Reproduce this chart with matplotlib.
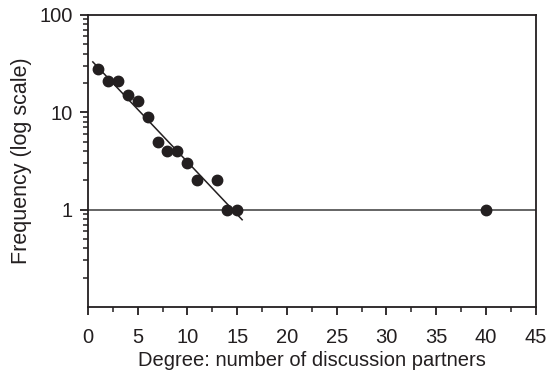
import numpy as np
import matplotlib
matplotlib.use("Agg")
import matplotlib.pyplot as plt
from matplotlib.ticker import FixedLocator, MultipleLocator, NullFormatter

degree = [1, 2, 3, 4, 5, 6, 7, 8, 9, 10, 11, 13, 14, 15, 40]
frequency = [28, 21, 21, 15, 13, 9, 5, 4, 4, 3, 2, 2, 1, 1, 1]
xticks = [0, 5, 10, 15, 20, 25, 30, 35, 40, 45]
yticks = [1, 10, 100]
ytick_labels = ["1", "10", "100"]

plt.rcParams['font.family'] = ['Liberation Sans', 'DejaVu Sans']
ink = '#231f20'

fig = plt.figure(figsize=(5.49, 3.72), dpi=100)
ax = fig.add_axes([0.160, 0.175, 0.816, 0.785])

ax.set_yscale('log')
ax.set_xlim(0, 45)
ax.set_ylim(0.1, 100)

# fit line on the degree <= 15 points
fx = np.array([d for d in degree if d <= 15], dtype=float)
fy = np.array([f for d, f in zip(degree, frequency) if d <= 15], dtype=float)
b, a = np.polyfit(fx, np.log10(fy), 1)
lx = np.array([0.5, 15.5])
ax.plot(lx, 10 ** (a + b * lx), color=ink, lw=1.1, zorder=2)

ax.axhline(1, color='#3a3a3a', lw=1.1, zorder=1)
ax.plot(degree, frequency, 'o', color=ink, markersize=7.5, zorder=3)

ax.xaxis.set_major_locator(FixedLocator(xticks))
ax.xaxis.set_minor_locator(MultipleLocator(2.5))
ax.yaxis.set_major_locator(FixedLocator(yticks))
ax.set_yticklabels(ytick_labels)
minors = [m * 10.0 ** e for e in (-1, 0, 1) for m in range(2, 10)]
ax.yaxis.set_minor_locator(FixedLocator(minors))
ax.yaxis.set_minor_formatter(NullFormatter())

fs = 14.5
ax.tick_params(axis='both', which='major', direction='out', length=6, width=1.3,
               color=ink, labelsize=fs, labelcolor=ink, pad=5)
ax.tick_params(axis='both', which='minor', direction='out', length=3.5, width=1.1, color=ink)
ax.tick_params(axis='x', which='major', pad=9)

for s in ax.spines.values():
    s.set_color(ink)
    s.set_linewidth(1.3)

ax.set_xlabel('Degree: number of discussion partners', fontsize=fs, color=ink, labelpad=3)
ax.set_ylabel('Frequency (log scale)', fontsize=15.5, color=ink, labelpad=5)

fig.savefig('out.png', dpi=100, facecolor='white')
